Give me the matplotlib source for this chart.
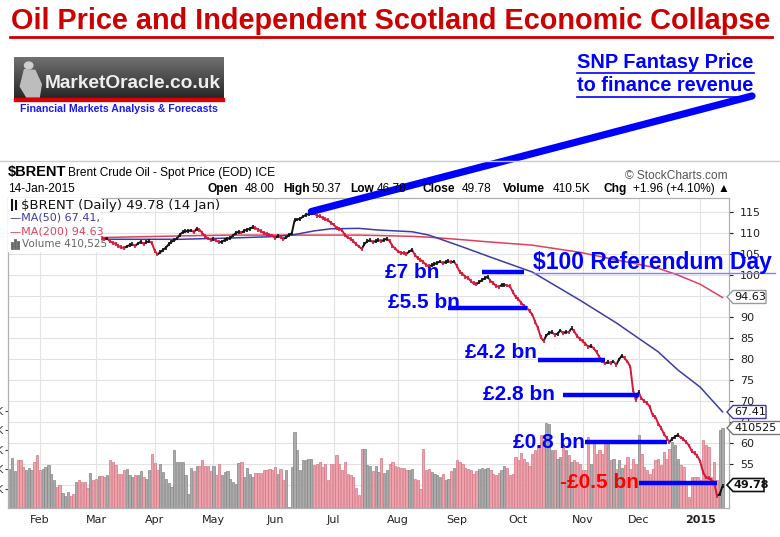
import numpy as np
import pandas as pd
import matplotlib
matplotlib.use('Agg')
import matplotlib.pyplot as plt
from matplotlib.collections import LineCollection
from matplotlib.patches import Polygon, Rectangle, Ellipse
from matplotlib.lines import Line2D
from matplotlib.transforms import blended_transform_factory

W, H = 780, 537

# trading days on the chart (ICE closed Good Friday, Christmas, New Year)
days = pd.bdate_range('2014-01-16', '2015-01-14')
days = days[~days.isin(pd.to_datetime(['2014-04-18', '2014-12-25', '2015-01-01']))]

# daily closes, from 3 Mar 2014 (earlier days sit under the legend)
close_start = '2014-03-03'
close_mar = [108.8, 109.2, 108.9, 108.5, 108.7, 108.0, 107.7, 107.4, 106.9, 106.6, 106.4,
             106.8, 107.1, 107.3, 106.9, 107.5, 107.9, 107.4, 107.8, 108.0, 107.6]
close_apr = [105.8, 104.9, 105.4, 106.0, 106.5, 107.3, 107.9, 108.3, 108.7, 109.6, 110.2,
             110.4, 110.5, 110.6, 110.2, 111.0, 110.8, 110.0, 109.2, 108.7, 108.4]
close_may = [108.5, 108.2, 107.8, 107.9, 108.3, 108.6, 108.8, 109.4, 110.0, 110.3, 110.1,
             110.5, 110.8, 111.0, 111.4, 111.2, 110.8, 110.4, 110.0, 109.8, 109.5, 109.4]
close_jun = [108.8, 109.2, 109.0, 108.6, 108.9, 109.6, 109.9, 113.0, 113.2, 113.4, 113.9,
             114.3, 114.5, 115.1, 114.8, 114.1, 114.0, 113.6, 113.3, 113.0, 112.4]
close_jul = [112.0, 111.2, 111.0, 110.6, 109.5, 108.9, 108.6, 108.1, 107.3, 106.8, 106.2, 107.4,
             108.0, 108.3, 107.8, 108.1, 108.3, 108.0, 108.4, 108.6, 108.1, 106.9, 106.3]
close_aug = [105.6, 105.3, 105.2, 105.0, 105.6, 106.0, 104.8, 104.0, 103.6, 103.1, 102.4,
             102.1, 102.3, 102.6, 102.9, 103.2, 102.8, 103.1, 103.3, 103.0, 103.2]
close_sep = [102.2, 100.8, 100.3, 99.6, 99.3, 98.5, 98.0, 97.8, 98.3, 98.8, 99.2,
             99.6, 98.6, 98.1, 97.4, 97.2, 97.6, 97.7, 97.5, 97.3, 96.0, 94.8]
close_oct = [94.2, 93.4, 92.6, 92.2, 91.4, 90.6, 88.8, 87.4, 85.2, 84.3, 85.6, 86.2,
             86.4, 85.8, 86.0, 86.8, 86.1, 86.5, 86.3, 87.3, 86.6, 85.4, 84.8]
close_nov = [84.2, 83.6, 82.9, 83.1, 82.5, 81.6, 80.4, 79.6, 78.9, 79.3,
             79.0, 79.4, 78.6, 79.9, 80.8, 80.2, 79.4, 78.2, 72.6, 70.2]
close_dec = [72.1, 70.6, 70.0, 69.5, 68.6, 66.6, 66.2, 64.6, 63.6, 62.2, 61.2,
             60.2, 61.0, 61.5, 61.9, 61.3, 60.9, 60.2, 59.4, 58.0, 57.6, 56.9]
close_jan = [55.6, 53.1, 51.8, 51.6, 51.2, 50.6, 47.45, 47.82, 49.78]

# volume (thousands), one bar per trading day
volume = [236, 202, 258, 190, 245, 245, 210, 193, 207, 193,
          236, 270, 193, 202, 210, 222, 176, 145, 108, 116,
          79, 60, 82, 60, 73, 133, 142, 133, 133, 104,
          181, 145, 150, 162, 162, 159, 168, 248, 236, 219,
          173, 176, 197, 202, 168, 159, 168, 171, 190, 159,
          150, 197, 275, 231, 193, 227, 185, 150, 128, 108,
          296, 236, 236, 236, 168, 74, 207, 190, 214, 214,
          245, 214, 214, 190, 214, 168, 224, 168, 185, 190,
          150, 133, 121, 231, 236, 159, 207, 173, 159, 180,
          180, 180, 193, 193, 202, 193, 210, 176, 202, 142,
          193, 5, 210, 390, 299, 193, 248, 248, 253, 253,
          219, 227, 236, 210, 224, 142, 227, 227, 270, 227,
          197, 236, 176, 168, 159, 104, 65, 304, 301, 219,
          214, 190, 214, 185,
          258, 180, 193, 227, 236, 214, 210, 207, 207, 193,
          197, 202, 150, 142, 99, 304, 193, 202, 185, 176,
          168, 159, 176, 142, 150, 190, 207, 248, 236, 227,
          207, 202, 197, 173, 190, 202, 207, 202, 207, 197,
          176, 168, 180, 193, 214, 207, 168, 176, 262, 248,
          282, 253, 236, 214, 279, 296, 321, 373, 351, 436,
          433, 296, 296, 253, 262, 330, 296, 270, 236, 245,
          236, 227, 193, 193, 364, 227, 339, 275, 296, 275,
          330, 330, 245, 253, 202, 245, 207, 219, 262, 202,
          253, 227, 373, 279, 210, 193, 176, 202, 245, 253,
          219, 287, 253, 304, 339, 321, 253, 219, 210, 125,
          56, 159, 159, 159, 142, 347, 321, 313, 159, 236,
          142, 398, 410.525]
# up/down colour of the bars before the visible closes (d = down, u = up)
early_dir = "duuuddduuuddduuuuudduuudduddddudd"

# moving averages
ma_dates = ['2014-03-04', '2014-04-14', '2014-05-09', '2014-05-29', '2014-06-10',
            '2014-06-20', '2014-06-30', '2014-07-14', '2014-07-23', '2014-08-08',
            '2014-08-18', '2014-09-03', '2014-09-16', '2014-10-08', '2014-10-31',
            '2014-11-19', '2014-12-10', '2014-12-19', '2015-01-02', '2015-01-14']
ma50 = [108.5, 108.5, 108.8, 109.1, 109.5, 110.5, 111.0, 111.1, 110.7, 110.3,
        109.5, 106.7, 104.5, 100.7, 94.0, 88.6, 81.7, 77.4, 73.3, 67.41]
ma200 = [108.9, 109.3, 109.5, 109.5, 109.5, 109.5, 109.5, 109.5, 109.4, 109.2,
         109.0, 108.4, 107.9, 107.1, 105.4, 103.6, 101.6, 100.0, 97.8, 94.63]

# revenue annotations: label, line start/end date, price level
notes = [('£7 bn', '2014-09-12', '2014-10-03', 100.7),
         ('£5.5 bn', '2014-08-27', '2014-10-06', 92.1),
         ('£4.2 bn', '2014-10-10', '2014-11-13', 79.8),
         ('£2.8 bn', '2014-10-23', '2014-12-01', 71.4),
         ('£0.8 bn', '2014-11-04', '2014-12-15', 60.2),
         ('-£0.5 bn', '2014-12-01', '2015-01-12', 50.5)]

closes = np.array(close_mar + close_apr + close_may + close_jun + close_jul + close_aug +
                  close_sep + close_oct + close_nov + close_dec + close_jan)
vol = np.array(volume)
c0 = days.get_loc(pd.Timestamp(close_start))
cx = np.arange(len(closes)) + c0
idx = np.arange(len(days))

ARIAL = 'Liberation Sans'
BLUE = '#0000ff'

fig = plt.figure(figsize=(W / 100, H / 100), dpi=100)
fig.patch.set_facecolor('white')


def fx(px):
    return px / W


def fy(py):
    return 1 - py / H


def ftext(x, y, s, **kw):
    return fig.text(fx(x), fy(y), s, **kw)


def fline(xs, ys, **kw):
    fig.add_artist(Line2D([fx(v) for v in xs], [fy(v) for v in ys], transform=fig.transFigure, **kw))


# ---- page title and logo ----
ftext(391, 21, 'Oil Price and Independent Scotland Economic Collapse', ha='center', va='center',
      fontsize=20.8, fontweight='bold', color='#cc0000', family=ARIAL)
fline([10, 772], [37, 37], color='#cc0000', lw=2)

lax = fig.add_axes([fx(14), fy(99), 210 / W, 42 / H])
grad = np.linspace(0.45, 0.15, 50)[:, None] * np.ones((1, 10))
lax.imshow(grad, cmap='gray', vmin=0, vmax=1, aspect='auto', extent=(0, 1, 0, 1))
lax.add_patch(Ellipse((0.07, 0.8), 0.04, 0.16, color='#cfcfcf'))
lax.add_patch(Polygon([(0.05, 0.7), (0.1, 0.68), (0.13, 0.35), (0.12, 0.05), (0.06, 0.05),
                       (0.03, 0.3)], color='#bdbdbd'))
lax.text(0.985, 0.38, 'MarketOracle.co.uk', ha='right', va='center', fontsize=13.8,
         fontweight='bold', color='#eeeeee', family=ARIAL)
lax.set_xlim(0, 1)
lax.set_ylim(0, 1)
lax.axis('off')
fig.add_artist(Rectangle((fx(14), fy(101)), 210 / W, 3 / H, transform=fig.transFigure,
                         color='#dd0000'))
ftext(20, 109, 'Financial Markets Analysis & Forecasts', ha='left', va='center', fontsize=7.6,
      fontweight='bold', color='#1a1aee', family=ARIAL)

ftext(577, 62, 'SNP Fantasy Price', ha='left', va='center', fontsize=14.4,
      fontweight='bold', color=BLUE, family=ARIAL)
ftext(577, 86, 'to finance revenue', ha='left', va='center', fontsize=14.4,
      fontweight='bold', color=BLUE, family=ARIAL)
fline([577, 754], [73, 73], color=BLUE, lw=1.2)
fline([577, 754], [97, 97], color=BLUE, lw=1.2)

# ---- StockCharts header ----
fline([0, 780], [161, 161], color='#cccccc', lw=1)
ftext(8, 172, '$BRENT', fontsize=10.5, fontweight='bold', va='center', family=ARIAL)
ftext(68, 173, 'Brent Crude Oil - Spot Price (EOD) ICE', fontsize=8.6, va='center', family=ARIAL)
ftext(625, 176, '© StockCharts.com', fontsize=8.6, va='center', color='#555555', family=ARIAL)
ftext(8, 189, '14-Jan-2015', fontsize=8.6, va='center', family=ARIAL)
header = [(208, 'Open', True), (245, '48.00', False), (283, 'High', True), (312, '50.37', False),
          (350, 'Low', True), (377, '46.78', False), (423, 'Close', True), (462, '49.78', False),
          (503, 'Volume', True), (553, '410.5K', False), (603, 'Chg', True),
          (633, '+1.96 (+4.10%) ▲', False)]
for hx, hs, hb in header:
    ftext(hx, 189, hs, fontsize=8.6, va='center', fontweight='bold' if hb else 'normal',
          family=[ARIAL, 'DejaVu Sans'])

# ---- chart axes ----
L, R, T, B = 8, 729, 198, 508
axv = fig.add_axes([fx(L), fy(B), (R - L) / W, (B - T) / H])
ax = fig.add_axes([fx(L), fy(B), (R - L) / W, (B - T) / H], sharex=axv)
ax.patch.set_visible(False)
ax.set_xlim(0.56, 258.3)
ax.set_ylim(44.52, 118.33)
axv.set_ylim(0, 1590)

month_first = [k for k in range(1, len(days)) if days[k].month != days[k - 1].month]
month_lab = ['2015' if days[k].month == 1 else days[k].strftime('%b') for k in month_first]

# grid drawn on the volume axes so it stays behind the bars
tr = blended_transform_factory(axv.transAxes, ax.transData)
for p in range(50, 120, 5):
    axv.plot([0, 1], [p, p], transform=tr, color='#e2e2e2', lw=0.8, zorder=0)
for k in month_first:
    axv.axvline(k, color='#e2e2e2', lw=0.8, zorder=0)

# volume bars, coloured by the day's direction
down = np.array([ch == 'd' for ch in early_dir] + [False] * (len(days) - len(early_dir)))
down[c0 + 1:c0 + len(closes)] = np.diff(closes) < 0
axv.bar(idx, vol, width=0.8, color=np.where(down, '#eea2ac', '#ababab'),
        edgecolor=np.where(down, '#d47684', '#858585'), linewidth=0.5, zorder=1)
axv.yaxis.tick_left()
axv.set_yticks([100, 200, 300, 400, 500])
axv.set_yticklabels(['100K', '200K', '300K', '400K', '500K'])
axv.tick_params(axis='y', length=2, pad=1, labelsize=8, colors='#444444')
axv.tick_params(axis='x', bottom=False, labelbottom=False)

# moving averages
ma_x = days.get_indexer(pd.to_datetime(ma_dates))
ax.plot(ma_x, ma200, color='#e0405a', lw=1.1, zorder=3)
ax.plot(ma_x, ma50, color='#3c3ca6', lw=1.1, zorder=3)

# price: red on down days, black on up days
segs = [[(cx[k - 1], closes[k - 1]), (cx[k], closes[k])] for k in range(1, len(closes))]
cols = ['#d8173a' if closes[k] < closes[k - 1] else '#111111' for k in range(1, len(closes))]
ax.add_collection(LineCollection(segs, colors=cols, linewidths=1.4, zorder=4))
ax.vlines(cx[1:], closes[1:] - 0.45, closes[1:] + 0.45, colors=cols, lw=1.2, zorder=4)

ax.yaxis.tick_right()
ax.set_yticks(range(50, 120, 5))
ax.tick_params(axis='y', length=3, pad=5, labelsize=8, colors='#222222')
ax.set_xticks(month_first)
ax.set_xticklabels(month_lab)
ax.tick_params(axis='x', length=0, pad=5, labelsize=8, colors='#222222')
ax.get_xticklabels()[-1].set_fontweight('bold')
for a in (ax, axv):
    for s in a.spines.values():
        s.set_color('#b0b0b0')

# legend panel (hides the early part of the series)
ax.add_patch(Rectangle((0, 1 - 53 / 310), 92 / 721, 53 / 310, transform=ax.transAxes,
                       color='white', zorder=5))
ftext(21, 205, '$BRENT (Daily) 49.78 (14 Jan)', fontsize=9.5, va='center', color='#111111',
      family='DejaVu Sans', zorder=6)
ftext(10, 218, '—MA(50) 67.41,', fontsize=8, va='center', color='#3c3ca6',
      family='DejaVu Sans', zorder=6)
ftext(10, 231, '—MA(200) 94.63', fontsize=8, va='center', color='#e0405a',
      family='DejaVu Sans', zorder=6)
ftext(22, 244, 'Volume 410,525', fontsize=7.5, va='center', color='#666666',
      family='DejaVu Sans', zorder=6)
fline([12, 12], [200, 210], color='#111111', lw=1.5)
fline([16, 16], [201, 209], color='#111111', lw=1.5)
for bx, bh in ((12, 5), (15, 8), (18, 6)):
    fline([bx, bx], [248, 248 - bh], color='#666666', lw=2)


# end-of-line value tags
def tag(yc, s, ec, right, bold=False):
    pts = [(727, yc), (733, yc - 6.5), (right, yc - 6.5), (right, yc + 6.5), (733, yc + 6.5)]
    fig.add_artist(Polygon([(fx(a), fy(b)) for a, b in pts], closed=True, transform=fig.transFigure,
                           facecolor='white', edgecolor=ec, lw=1.2 if bold else 1, zorder=8))
    ftext(734, yc, s, fontsize=8, va='center', fontweight='bold' if bold else 'normal',
          color='#111111', zorder=9)


tag(297, '94.63', '#999999', 766)
tag(412, '67.41', '#3c3ca6', 766)
tag(428, '410525', '#777777', 781)
tag(485, '49.78', '#111111', 764, bold=True)

# revenue lines and labels
label_pos = {'£7 bn': (385, 273), '£5.5 bn': (388, 303), '£4.2 bn': (465, 353),
             '£2.8 bn': (483, 395), '£0.8 bn': (513, 442), '-£0.5 bn': (560, 483)}
for lab, d0, d1, lvl in notes:
    x0, x1 = days.get_indexer(pd.to_datetime([d0, d1]))
    ax.hlines(lvl, x0, x1, color=BLUE, lw=3.2, zorder=7)
    tx, ty = label_pos[lab]
    ftext(tx, ty, lab, fontsize=15, fontweight='bold', va='center', family=ARIAL,
          color='#ff0000' if lab.startswith('-') else BLUE, zorder=9)

ftext(533, 262, '$100 Referendum Day', fontsize=16.5, fontweight='bold', va='center',
      family=ARIAL, color=BLUE, zorder=9)
fline([533, 775], [273, 273], color='#8080ff', lw=1, zorder=9)

# SNP fantasy line from the June peak up to the note
peak = cx[np.argmax(closes)]
ax.annotate('', xy=(peak, closes.max()), xytext=(fx(752), fy(96)), textcoords='figure fraction',
            arrowprops=dict(arrowstyle='-', lw=5.2, color=BLUE, shrinkA=0, shrinkB=0),
            zorder=10, annotation_clip=False)

fig.savefig('out.png', dpi=100)
